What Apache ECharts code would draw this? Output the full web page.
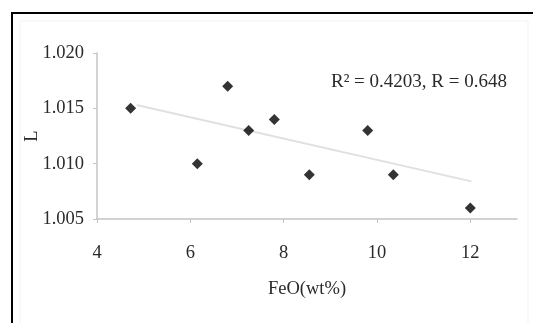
<!DOCTYPE html>
<html>
<head>
<meta charset="utf-8">
<script src="https://cdn.jsdelivr.net/npm/echarts@6/dist/echarts.min.js"></script>
<style>html,body{margin:0;padding:0;background:#fff}#c{width:533px;height:323px}</style>
</head>
<body>
<div id="c"></div>
<script>
const feo = [4.72, 6.15, 6.8, 7.25, 7.8, 8.55, 9.8, 10.35, 12.0];
const L = [1.015, 1.010, 1.017, 1.013, 1.014, 1.009, 1.013, 1.009, 1.006];
const trendX = [4.85, 12.02];
const trendY = [1.0153, 1.0084];
const xTicks = [4, 6, 8, 10, 12];
const yTicks = ['1.005', '1.010', '1.015', '1.020'];
const annotation = 'R² = 0.4203, R = 0.648';

const chart = echarts.init(document.getElementById('c'));
const font = '"Liberation Serif", "Times New Roman", serif';
const txt = '#2a2a2a';
chart.setOption({
  animation: false,
  grid: { left: 97, right: 16, top: 53, bottom: 104 },
  xAxis: {
    type: 'value', min: 4, max: 13, interval: 1,
    name: 'FeO(wt%)', nameLocation: 'middle', nameGap: 61, nameMoveOverlap: false,
    nameTextStyle: { fontFamily: font, fontSize: 18.5, color: txt },
    axisLine: { lineStyle: { color: '#c4c4c4', width: 1.5 } },
    axisTick: { show: true, length: 4, lineStyle: { color: '#c4c4c4' },
      customValues: xTicks },
    axisLabel: { fontFamily: font, fontSize: 18.5, color: txt, margin: 25,
      customValues: xTicks },
    splitLine: { show: false }
  },
  yAxis: {
    type: 'value', min: 1.005, max: 1.020, interval: 0.005,
    name: 'L', nameLocation: 'middle', nameGap: 55, nameMoveOverlap: false,
    nameTextStyle: { fontFamily: font, fontSize: 18.5, color: txt },
    axisLine: { show: true, lineStyle: { color: '#c4c4c4', width: 1.5 } },
    axisTick: { show: true, length: 4, lineStyle: { color: '#c4c4c4' } },
    axisLabel: { fontFamily: font, fontSize: 18.5, color: txt, margin: 13,
      formatter: v => v.toFixed(3) },
    splitLine: { show: false }
  },
  graphic: [
    { type: 'line', shape: { x1: 11, y1: 13, x2: 533, y2: 13 }, style: { stroke: '#000', lineWidth: 2 } },
    { type: 'line', shape: { x1: 12, y1: 12, x2: 12, y2: 323 }, style: { stroke: '#000', lineWidth: 2 } },
    { type: 'rect', shape: { x: 20, y: 21, width: 508, height: 310 }, style: { fill: 'none', stroke: '#f2f2f2', lineWidth: 1 } },
    { type: 'text', x: 331, y: 82, style: { text: annotation, fontFamily: font, fontSize: 19, fill: txt, verticalAlign: 'middle' } }
  ],
  series: [
    {
      type: 'line', data: trendX.map((x, i) => [x, trendY[i]]),
      symbol: 'none', lineStyle: { color: '#e0e0e0', width: 2 }, z: 1
    },
    {
      type: 'scatter', data: feo.map((x, i) => [x, L[i]]),
      symbol: 'diamond', symbolSize: 11, itemStyle: { color: '#000' }, z: 3
    }
  ]
});
</script>
</body>
</html>
